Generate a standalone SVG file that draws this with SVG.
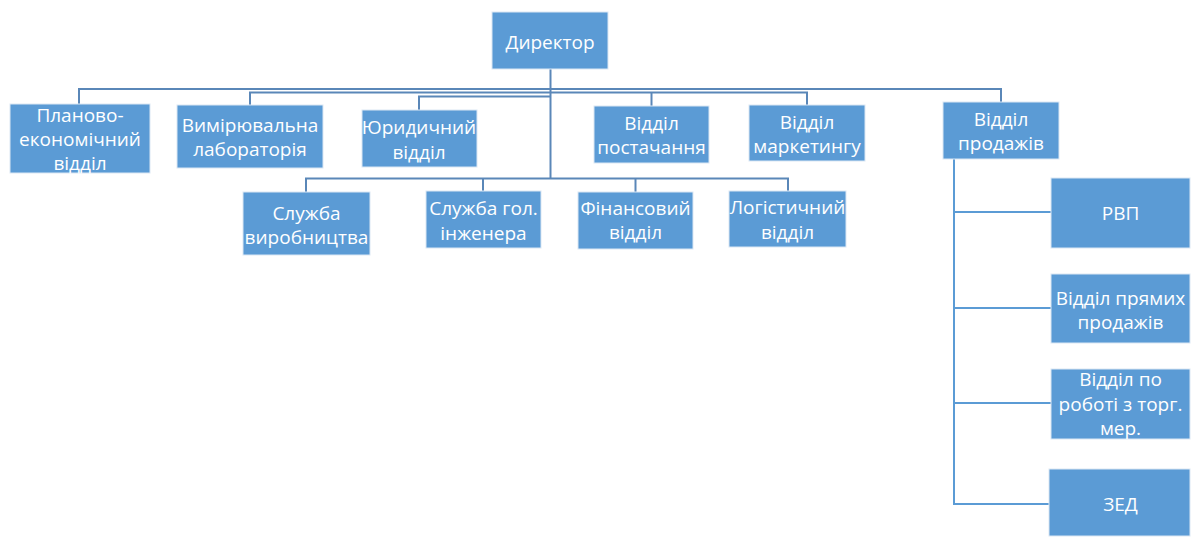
<svg xmlns="http://www.w3.org/2000/svg" width="1193" height="537" viewBox="0 0 1193 537">
<style>
.box{fill:#5b9bd5;stroke:#dbe7f4;stroke-width:1}
.t{font-family:"Open Sans","Liberation Sans",sans-serif;font-size:19px;fill:#ffffff;text-anchor:middle}
.ln{fill:none;stroke:#5a87b8;stroke-width:2}
.ln2{fill:none;stroke:#5b9bd5;stroke-width:2}
</style>
<rect width="1193" height="537" fill="#ffffff"/>
<g id="connectors">
<path class="ln" d="M550.5,69 V178"/>
<path class="ln" d="M79,104 V89 H1001 V102"/>
<path class="ln" d="M250,105 V92.5 H807 V105"/>
<path class="ln" d="M651.5,92.5 V106"/>
<path class="ln" d="M419,110 V96.5 H550.5"/>
<path class="ln" d="M306,192 V178.5 H788 V191"/>
<path class="ln" d="M483,191 V178.5"/>
<path class="ln" d="M635.5,192 V178.5"/>
<path class="ln2" d="M954,159 V504 H1049"/>
<path class="ln2" d="M954,212 H1051"/>
<path class="ln2" d="M954,308 H1051"/>
<path class="ln2" d="M954,403 H1051"/>
</g>
<g id="director"><rect class="box" x="492" y="12" width="116" height="57"/><text class="t" x="550" y="48.5">Директор</text></g>
<g id="planning"><rect class="box" x="10" y="104" width="140" height="69"/><text class="t" x="80" y="122">Планово-</text><text class="t" x="80" y="145.5">економічний</text><text class="t" x="80" y="170">відділ</text></g>
<g id="lab"><rect class="box" x="177" y="105" width="146" height="63"/><text class="t" x="250" y="131.5">Вимірювальна</text><text class="t" x="250" y="156">лабораторія</text></g>
<g id="legal"><rect class="box" x="362" y="110" width="115" height="57"/><text class="t" x="419" y="133.5">Юридичний</text><text class="t" x="419" y="158.5">відділ</text></g>
<g id="supply"><rect class="box" x="594" y="106" width="115" height="57"/><text class="t" x="651.5" y="129.5">Відділ</text><text class="t" x="651.5" y="153.5">постачання</text></g>
<g id="marketing"><rect class="box" x="749" y="105" width="116" height="56"/><text class="t" x="807" y="129">Відділ</text><text class="t" x="807" y="153">маркетингу</text></g>
<g id="sales"><rect class="box" x="943" y="102" width="116" height="57"/><text class="t" x="1001" y="126">Відділ</text><text class="t" x="1001" y="150">продажів</text></g>
<g id="production"><rect class="box" x="243" y="192" width="127" height="63"/><text class="t" x="306.5" y="219.5">Служба</text><text class="t" x="306.5" y="243.5">виробництва</text></g>
<g id="engineer"><rect class="box" x="426" y="191" width="115" height="57"/><text class="t" x="483.5" y="215">Служба гол.</text><text class="t" x="483.5" y="240">інженера</text></g>
<g id="finance"><rect class="box" x="578" y="192" width="115" height="57"/><text class="t" x="635.5" y="215">Фінансовий</text><text class="t" x="635.5" y="239">відділ</text></g>
<g id="logistics"><rect class="box" x="729" y="191" width="117" height="56"/><text class="t" x="787.5" y="213.5">Логістичний</text><text class="t" x="787.5" y="238.5">відділ</text></g>
<g id="rvp"><rect class="box" x="1051" y="178" width="139" height="70"/><text class="t" x="1120.5" y="220">РВП</text></g>
<g id="direct-sales"><rect class="box" x="1051" y="274" width="139" height="69"/><text class="t" x="1120.5" y="304.5">Відділ прямих</text><text class="t" x="1120.5" y="328.5">продажів</text></g>
<g id="trade-events"><rect class="box" x="1051" y="369" width="139" height="70"/><text class="t" x="1120.5" y="386">Відділ по</text><text class="t" x="1120.5" y="410.5">роботі з торг.</text><text class="t" x="1120.5" y="434.5">мер.</text></g>
<g id="zed"><rect class="box" x="1049" y="469" width="141" height="67"/><text class="t" x="1120.5" y="511">ЗЕД</text></g>
</svg>
